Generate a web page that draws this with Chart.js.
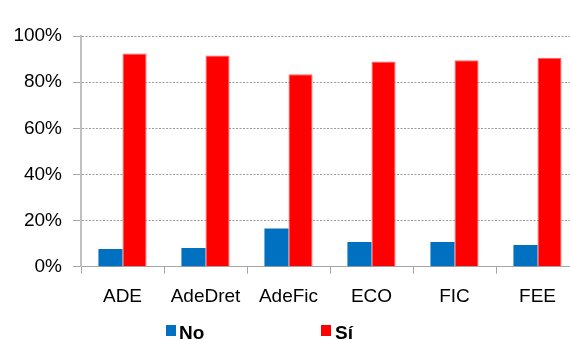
<!DOCTYPE html>
<html>
<head>
<meta charset="utf-8">
<script src="https://cdn.jsdelivr.net/npm/chart.js@4/dist/chart.umd.min.js"></script>
<style>
html,body{margin:0;padding:0;background:#fff;overflow:hidden;width:570px;height:339px;}
canvas{display:block;}
</style>
</head>
<body>
<canvas id="c" width="579" height="339"></canvas>
<script>
const categories = ["ADE", "AdeDret", "AdeFic", "ECO", "FIC", "FEE"];
const seriesNo = [7.7, 8.1, 16.6, 10.7, 10.7, 9.4];
const seriesSi = [92.4, 91.5, 83.4, 89.0, 89.5, 90.6];
const yTicks = [0, 20, 40, 60, 80, 100];
const seriesLabels = ["No", "Sí"];

const FONT = "'Liberation Sans', Arial, sans-serif";

const legendPlugin = {
  id: 'customLegend',
  afterDraw(chart) {
    const ctx = chart.ctx;
    const pos = [{bx: 166, tx: 179}, {bx: 321, tx: 335}];
    ctx.save();
    ctx.font = "bold 19px " + FONT;
    ctx.textBaseline = 'alphabetic';
    ctx.textAlign = 'left';
    chart.data.datasets.forEach((ds, i) => {
      ctx.fillStyle = ds.backgroundColor;
      ctx.fillRect(pos[i].bx, 325, 10, 11);
      ctx.fillStyle = '#000';
      ctx.fillText(ds.label, pos[i].tx, 338.5);
    });
    ctx.restore();
  }
};

new Chart(document.getElementById('c'), {
  type: 'bar',
  data: {
    labels: categories,
    datasets: [
      {label: seriesLabels[0], data: seriesNo, backgroundColor: '#0070C0', borderWidth: 0,
       barPercentage: 1.0, categoryPercentage: 0.58},
      {label: seriesLabels[1], data: seriesSi, backgroundColor: '#FF0000', borderColor: '#FF6060', borderWidth: {top:1, left:1, right:1, bottom:0},
       barPercentage: 1.0, categoryPercentage: 0.58}
    ]
  },
  options: {
    responsive: false,
    animation: false,
    layout: {padding: {top: 36, left: 0, right: 0, bottom: 0}},
    plugins: {legend: {display: false}, tooltip: {enabled: false}},
    scales: {
      x: {
        offset: true,
        grid: {display: true, drawOnChartArea: false, drawTicks: true, tickLength: 7, color: '#a6a6a6', lineWidth: 1, offset: true},
        border: {display: true, color: '#a6a6a6', width: 1},
        ticks: {color: '#000', font: {family: FONT, size: 19}, padding: 12, maxRotation: 0, autoSkip: false},
        afterFit(scale) { scale.height = 72.3; scale.paddingLeft = 0; scale.paddingRight = 0; }
      },
      y: {
        min: 0, max: 100,
        afterBuildTicks(scale) { scale.ticks = yTicks.map(v => ({value: v})); },
        grid: {color: '#9a9a9a', lineWidth: 1, drawTicks: true, tickLength: 8, tickColor: '#a6a6a6', tickBorderDash: []},
        border: {display: true, color: '#c0c0c0', width: 2, dash: [2, 1.5]},
        ticks: {color: '#000', font: {family: FONT, size: 19}, padding: 11, callback: v => v + '%'},
        afterFit(scale) { scale.width = 81; }
      }
    }
  },
  plugins: [legendPlugin]
});
</script>
</body>
</html>
